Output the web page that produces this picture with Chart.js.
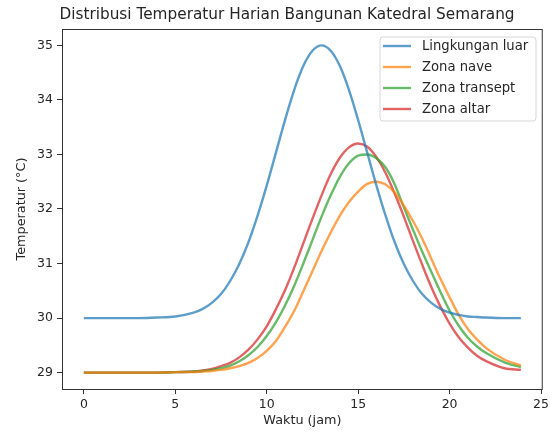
<!DOCTYPE html>
<html>
<head>
<meta charset="utf-8">
<script src="https://cdn.jsdelivr.net/npm/chart.js@4.4.1/dist/chart.umd.min.js"></script>
<style>
  html, body { margin: 0; padding: 0; background: #fff; }
  #wrap { width: 552px; height: 433px; }
</style>
</head>
<body>
<div id="wrap"><canvas id="c" width="552" height="433"></canvas></div>
<script>
// jam (x) — rapat di sekitar puncak
const hours = [0, 1, 2, 3, 4, 5,
  6, 6.5, 7, 7.5, 8, 8.5, 9, 9.5, 10, 10.5, 11, 11.5, 12, 12.5, 13, 13.5,
  14, 14.5, 15, 15.5, 16, 16.5, 17, 17.5, 18, 18.5, 19, 19.5, 20, 20.5, 21, 21.5, 22,
  23, 23.9];

// suhu (°C)
const luar = [30, 30, 30, 30, 30.01, 30.03,
  30.10, 30.17, 30.28, 30.44, 30.68, 30.99, 31.39, 31.88, 32.43, 33.03, 33.63, 34.18, 34.62, 34.90, 35.00, 34.90,
  34.62, 34.18, 33.63, 33.03, 32.43, 31.88, 31.39, 30.99, 30.68, 30.44, 30.28, 30.17, 30.10, 30.06, 30.03, 30.02, 30.01,
  30.00, 30.00];
const nave = [29, 29, 29, 29, 29, 29.01,
  29.01, 29.02, 29.03, 29.05, 29.08, 29.12, 29.18, 29.27, 29.40, 29.58, 29.84, 30.13, 30.49, 30.86, 31.23, 31.57,
  31.88, 32.13, 32.32, 32.46, 32.50, 32.45, 32.30, 32.06, 31.78, 31.46, 31.09, 30.72, 30.38, 30.06, 29.80, 29.61, 29.45,
  29.24, 29.13];
const transept = [29, 29, 29, 29, 29, 29.01,
  29.02, 29.03, 29.05, 29.08, 29.13, 29.21, 29.32, 29.47, 29.67, 29.92, 30.23, 30.59, 31.00, 31.43, 31.86, 32.25,
  32.59, 32.84, 32.98, 33.00, 32.93, 32.76, 32.45, 32.03, 31.62, 31.22, 30.85, 30.48, 30.14, 29.86, 29.64, 29.48, 29.36,
  29.19, 29.10];
const altar = [29, 29, 29, 29, 29, 29.01,
  29.02, 29.04, 29.07, 29.12, 29.18, 29.28, 29.42, 29.61, 29.85, 30.16, 30.51, 30.92, 31.37, 31.82, 32.25, 32.64,
  32.94, 33.13, 33.20, 33.14, 32.95, 32.66, 32.28, 31.86, 31.41, 30.98, 30.57, 30.21, 29.90, 29.65, 29.46, 29.31, 29.21,
  29.08, 29.05];

const xTicks = [0, 5, 10, 15, 20, 25];
const yTicks = [29, 30, 31, 32, 33, 34, 35];

const FONT = "'DejaVu Sans', sans-serif";
const INK = "#262626";

const SERIES = [
  { label: "Lingkungan luar", data: luar,     color: "rgba(31,119,180,0.72)" },
  { label: "Zona nave",       data: nave,     color: "rgba(255,127,14,0.72)" },
  { label: "Zona transept",   data: transept, color: "rgba(44,160,44,0.72)" },
  { label: "Zona altar",      data: altar,    color: "rgba(214,39,40,0.72)" },
];

// bingkai, judul, label sumbu, legenda ala matplotlib
const decor = {
  id: "decor",
  afterDraw(chart) {
    const { ctx, chartArea: a } = chart;
    ctx.save();
    ctx.strokeStyle = "#333";
    ctx.lineWidth = 1;
    ctx.strokeRect(a.left + 0.5, a.top + 0.5, a.right - a.left - 1, a.bottom - a.top);

    ctx.fillStyle = INK;
    ctx.textAlign = "center";
    ctx.textBaseline = "middle";
    ctx.font = `15.3px ${FONT}`;
    ctx.fillText("Distribusi Temperatur Harian Bangunan Katedral Semarang", 287, 15);

    ctx.font = `12.8px ${FONT}`;
    ctx.fillText("Waktu (jam)", (a.left + a.right) / 2, 421);
    ctx.save();
    ctx.translate(22, (a.top + a.bottom) / 2);
    ctx.rotate(-Math.PI / 2);
    ctx.fillText("Temperatur (°C)", 0, 0);
    ctx.restore();

    // legenda
    const bx = 380, by = 37, bw = 156, bh = 84, r = 3;
    ctx.beginPath();
    ctx.moveTo(bx + r, by);
    ctx.arcTo(bx + bw, by, bx + bw, by + bh, r);
    ctx.arcTo(bx + bw, by + bh, bx, by + bh, r);
    ctx.arcTo(bx, by + bh, bx, by, r);
    ctx.arcTo(bx, by, bx + bw, by, r);
    ctx.closePath();
    ctx.fillStyle = "rgba(255,255,255,0.85)";
    ctx.fill();
    ctx.strokeStyle = "#d6d6d6";
    ctx.stroke();

    ctx.font = `13.2px ${FONT}`;
    ctx.textAlign = "left";
    chart.data.datasets.forEach((ds, i) => {
      const y = 46 + i * 21;
      ctx.strokeStyle = ds.borderColor;
      ctx.lineWidth = 2.4;
      ctx.beginPath();
      ctx.moveTo(383, y);
      ctx.lineTo(411, y);
      ctx.stroke();
      ctx.fillStyle = INK;
      ctx.fillText(ds.label, 422, y + 0.5);
    });
    ctx.restore();
  },
};

const tickStyle = { color: INK, font: { family: FONT, size: 12.5 } };
const gridStyle = { drawOnChartArea: false, drawTicks: true, tickLength: 5, color: "#333", lineWidth: 1 };

new Chart(document.getElementById("c").getContext("2d"), {
  type: "line",
  data: {
    datasets: SERIES.map((s) => ({
      label: s.label,
      data: hours.map((h, i) => ({ x: h, y: s.data[i] })),
      borderColor: s.color,
      borderWidth: 2.4,
      pointRadius: 0,
      cubicInterpolationMode: "monotone",
      fill: false,
    })),
  },
  options: {
    responsive: false,
    animation: false,
    layout: { padding: { top: 29, right: 9, left: 0, bottom: 0 } },
    plugins: { legend: { display: false }, tooltip: { enabled: false }, title: { display: false } },
    scales: {
      x: {
        type: "linear",
        min: -1.195,
        max: 25.095,
        afterBuildTicks: (s) => { s.ticks = xTicks.map((v) => ({ value: v })); },
        afterFit: (s) => { s.height = 44; },
        ticks: { ...tickStyle, padding: 3, maxRotation: 0 },
        grid: gridStyle,
        border: { display: false },
      },
      y: {
        min: 28.7,
        max: 35.3,
        afterBuildTicks: (s) => { s.ticks = yTicks.map((v) => ({ value: v })); },
        afterFit: (s) => { s.width = 62; },
        ticks: { ...tickStyle, padding: 4 },
        grid: gridStyle,
        border: { display: false },
      },
    },
  },
  plugins: [decor],
});
</script>
</body>
</html>
